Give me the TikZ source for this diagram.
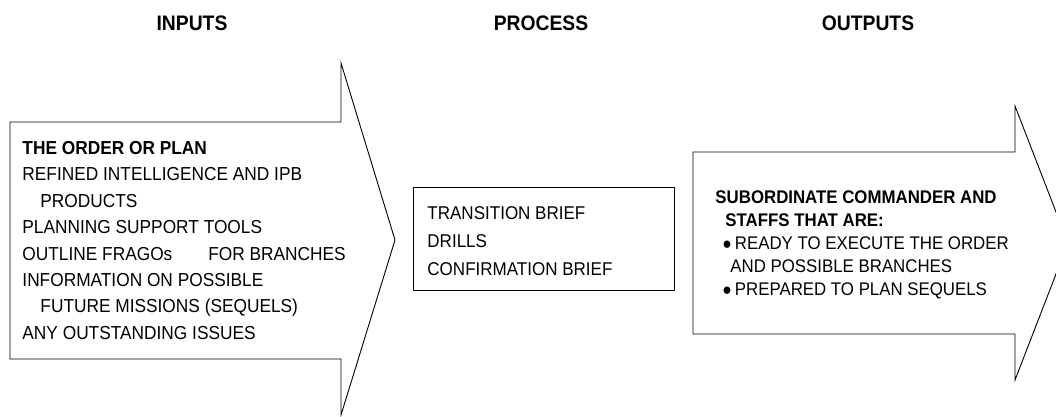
\documentclass[tikz,border=0pt]{standalone}
\usepackage{fontspec}
\setmainfont{Liberation Sans}[FakeStretch=0.92]
\usetikzlibrary{positioning}

\newcommand{\dotmark}{{\fontsize{17}{0}\selectfont ●}}

\begin{document}
\begin{tikzpicture}[x=1pt, y=-1pt, line width=0.9pt,
  head/.style = {font=\fontsize{21}{24}\selectfont\bfseries},
  inbox/.style = {align=left, inner sep=0pt, anchor=north west, font=\fontsize{18.8}{26.4}\selectfont},
  midbox/.style = {align=left, inner sep=0pt, anchor=north west, font=\fontsize{18.5}{28}\selectfont},
  outbox/.style = {align=left, inner sep=0pt, anchor=north west, font=\fontsize{18.3}{23}\selectfont},
  outline/.style = {draw}]
\useasboundingbox (0,0) rectangle (1056,416);
\clip (0,0) rectangle (1056,416);

\node[head] (inputs) at (192,23) {INPUTS};
\node[head] (process) at (541,23) {PROCESS};
\node[head] (outputs) at (868,23) {OUTPUTS};

\draw[outline] (10,122) -- (341,122) -- (341,63) -- (395,240) -- (341,415) -- (341,359) -- (10,359) -- cycle;
\draw[outline] (413,187) rectangle (674,290);
\draw[outline] (693,152) -- (1015,152) -- (1015,106) -- (1068,243) -- (1015,380) -- (1015,334) -- (693,334) -- cycle;

\node[inbox] (intext) at (22,141) {\textbf{THE ORDER OR PLAN}\\
REFINED INTELLIGENCE AND IPB\\
\hspace*{18pt}PRODUCTS\\
PLANNING SUPPORT TOOLS\\
OUTLINE FRAGOs\hspace{36pt}FOR BRANCHES\\
INFORMATION ON POSSIBLE\\
\hspace*{18pt}FUTURE MISSIONS (SEQUELS)\\
ANY OUTSTANDING ISSUES};

\node[midbox] (proctext) at (427,206) {TRANSITION BRIEF\\
DRILLS\\
CONFIRMATION BRIEF};

\node[outbox] (outtext) at (715,190) {\textbf{SUBORDINATE COMMANDER AND}\\
\hspace*{10pt}\textbf{STAFFS THAT ARE:}\\
\hspace*{7pt}\dotmark\,READY TO EXECUTE THE ORDER\\
\hspace*{15pt}AND POSSIBLE BRANCHES\\
\hspace*{7pt}\dotmark\,PREPARED TO PLAN SEQUELS};

\end{tikzpicture}
\end{document}
